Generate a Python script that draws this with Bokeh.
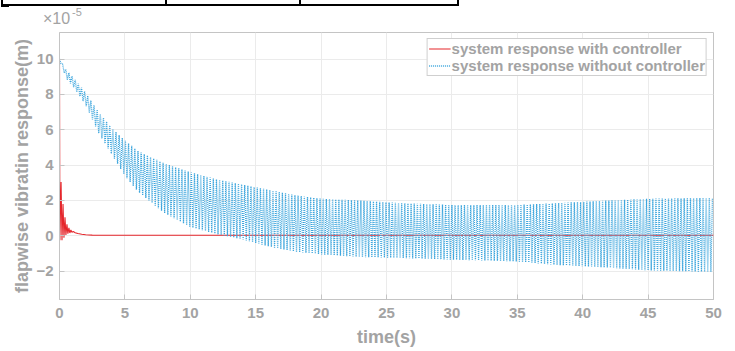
import numpy as np
from bokeh.plotting import figure
from bokeh.models import Range1d, FixedTicker, Legend, LegendItem, Div
from bokeh.layouts import column
from bokeh.embed import file_html
from bokeh.resources import INLINE

# ---- data (values in units of 1e-5 m) ----
x_ticks = [0, 5, 10, 15, 20, 25, 30, 35, 40, 45, 50]
y_ticks = [-2, 0, 2, 4, 6, 8, 10]

# system response with controller
red_t = [0, 0.03, 0.12, 0.19, 0.27, 0.34, 0.42, 0.49, 0.57, 0.64, 0.72, 0.79, 0.87,
         0.95, 1.05, 1.2, 1.4, 1.7, 2.0, 2.5, 3.0, 50]
red_v = [10, -0.25, 3.05, -0.25, 1.8, -0.1, 1.05, 0.05, 0.65, 0.12, 0.45, 0.16, 0.33,
         0.2, 0.24, 0.18, 0.13, 0.09, 0.06, 0.04, 0.03, 0.03]

# system response without controller: envelope
blue_env_t = [0, 0.5, 1, 2, 3, 4, 5, 6, 8, 10, 12, 14, 16, 18, 20, 23, 26, 30, 35, 38, 42, 45, 50]
blue_upper = [10, 9.4, 9.0, 8.1, 7.0, 6.1, 5.4, 4.8, 4.1, 3.6, 3.2, 2.9, 2.6, 2.3, 2.1, 2.0,
              1.85, 1.75, 1.75, 1.85, 2.0, 2.1, 2.15]
blue_lower = [10, 8.9, 8.5, 7.4, 5.8, 4.6, 3.4, 2.5, 1.3, 0.5, 0.1, -0.2, -0.6, -0.9, -1.05,
              -1.2, -1.25, -1.35, -1.45, -1.65, -1.8, -1.95, -2.05]
blue_period = 0.24  # oscillation period (s)

# zigzag between read envelopes, one point per half period
bt = np.arange(0, 50 + 1e-9, blue_period / 2)
up = np.interp(bt, blue_env_t, blue_upper)
lo = np.interp(bt, blue_env_t, blue_lower)
bv = np.where(np.arange(len(bt)) % 2 == 0, up, lo)

GRAY = "#a3a3a3"
FONT = "Liberation Sans"
TOP_H = 28

p = figure(width=735, height=351 - TOP_H, x_range=Range1d(0, 50), y_range=Range1d(-3.6, 11.5),
           output_backend="svg", toolbar_location=None,
           min_border_left=59, min_border_right=22, min_border_top=32 - TOP_H, min_border_bottom=52)
p.background_fill_color = "white"
p.border_fill_color = "white"
p.outline_line_color = "#c4c4c4"
p.outline_line_width = 1

for ax in (p.xaxis[0], p.yaxis[0]):
    ax.axis_line_color = "#c4c4c4"
    ax.major_tick_line_color = "#c4c4c4"
    ax.major_tick_in = 5
    ax.major_tick_out = 0
    ax.minor_tick_line_color = None
    ax.major_label_text_font = FONT
    ax.major_label_text_font_style = "bold"
    ax.major_label_text_font_size = "15px"
    ax.major_label_text_color = GRAY
    ax.axis_label_text_font = FONT
    ax.axis_label_text_font_style = "bold"
    ax.axis_label_text_font_size = "18px"
    ax.axis_label_text_color = GRAY

p.xaxis.ticker = FixedTicker(ticks=x_ticks)
p.yaxis.ticker = FixedTicker(ticks=y_ticks)
p.xaxis.axis_label = "time(s)"
p.yaxis.axis_label = "flapwise vibratin response(m)"
p.xaxis.major_label_standoff = 8
p.yaxis.major_label_standoff = 6
p.xaxis.axis_label_standoff = 6
p.yaxis.axis_label_standoff = 1

p.xgrid.ticker = FixedTicker(ticks=x_ticks)
p.ygrid.ticker = FixedTicker(ticks=y_ticks)
p.grid.grid_line_color = "#ebebeb"
p.grid.grid_line_width = 1

r_red = p.line(red_t, red_v, line_color="#e5262b", line_width=1.1)
r_blue = p.line(bt, bv, line_color="#3ea6dd", line_width=1.3, line_dash="1 1")

legend = Legend(items=[LegendItem(label="system response with controller", renderers=[r_red]),
                       LegendItem(label="system response without controller", renderers=[r_blue])],
                location="top_right")
legend.margin = 6
legend.padding = 1
legend.spacing = -3
legend.glyph_width = 22
legend.glyph_height = 13
legend.label_height = 13
legend.label_standoff = 1
legend.label_text_font = FONT
legend.label_text_font_style = "bold"
legend.label_text_font_size = "15px"
legend.label_text_line_height = 0.9
legend.label_text_color = GRAY
legend.border_line_color = "#a0a0a0"
legend.border_line_width = 1
legend.background_fill_color = "white"
legend.background_fill_alpha = 1
p.add_layout(legend)

html = ('<div style="position:relative;width:735px;height:%dpx;overflow:hidden;margin:0;padding:0;'
        'font-family:\'Liberation Sans\';color:%s">'
        '<div style="position:absolute;left:3px;top:4px;width:456px;height:2px;background:#000"></div>'
        '<div style="position:absolute;left:1px;top:0px;width:2px;height:7px;background:#000"></div>'
        '<div style="position:absolute;left:1px;top:5px;width:8px;height:2px;background:#000"></div>'
        '<div style="position:absolute;left:165px;top:0px;width:2px;height:5px;background:#000"></div>'
        '<div style="position:absolute;left:299px;top:0px;width:2px;height:5px;background:#000"></div>'
        '<div style="position:absolute;left:457px;top:0px;width:2px;height:5px;background:#000"></div>'
        '<span style="position:absolute;left:43px;top:11px;font-size:16px;line-height:16px">×10</span>'
        '<span style="position:absolute;left:72px;top:7px;font-size:11px;line-height:11px">-5</span>'
        '</div>') % (TOP_H, GRAY)
top = Div(text=html, width=735, height=TOP_H, margin=(0, 0, 0, 0))

layout = column(top, p, spacing=0)
open("out.html", "w").write(file_html(layout, INLINE))
